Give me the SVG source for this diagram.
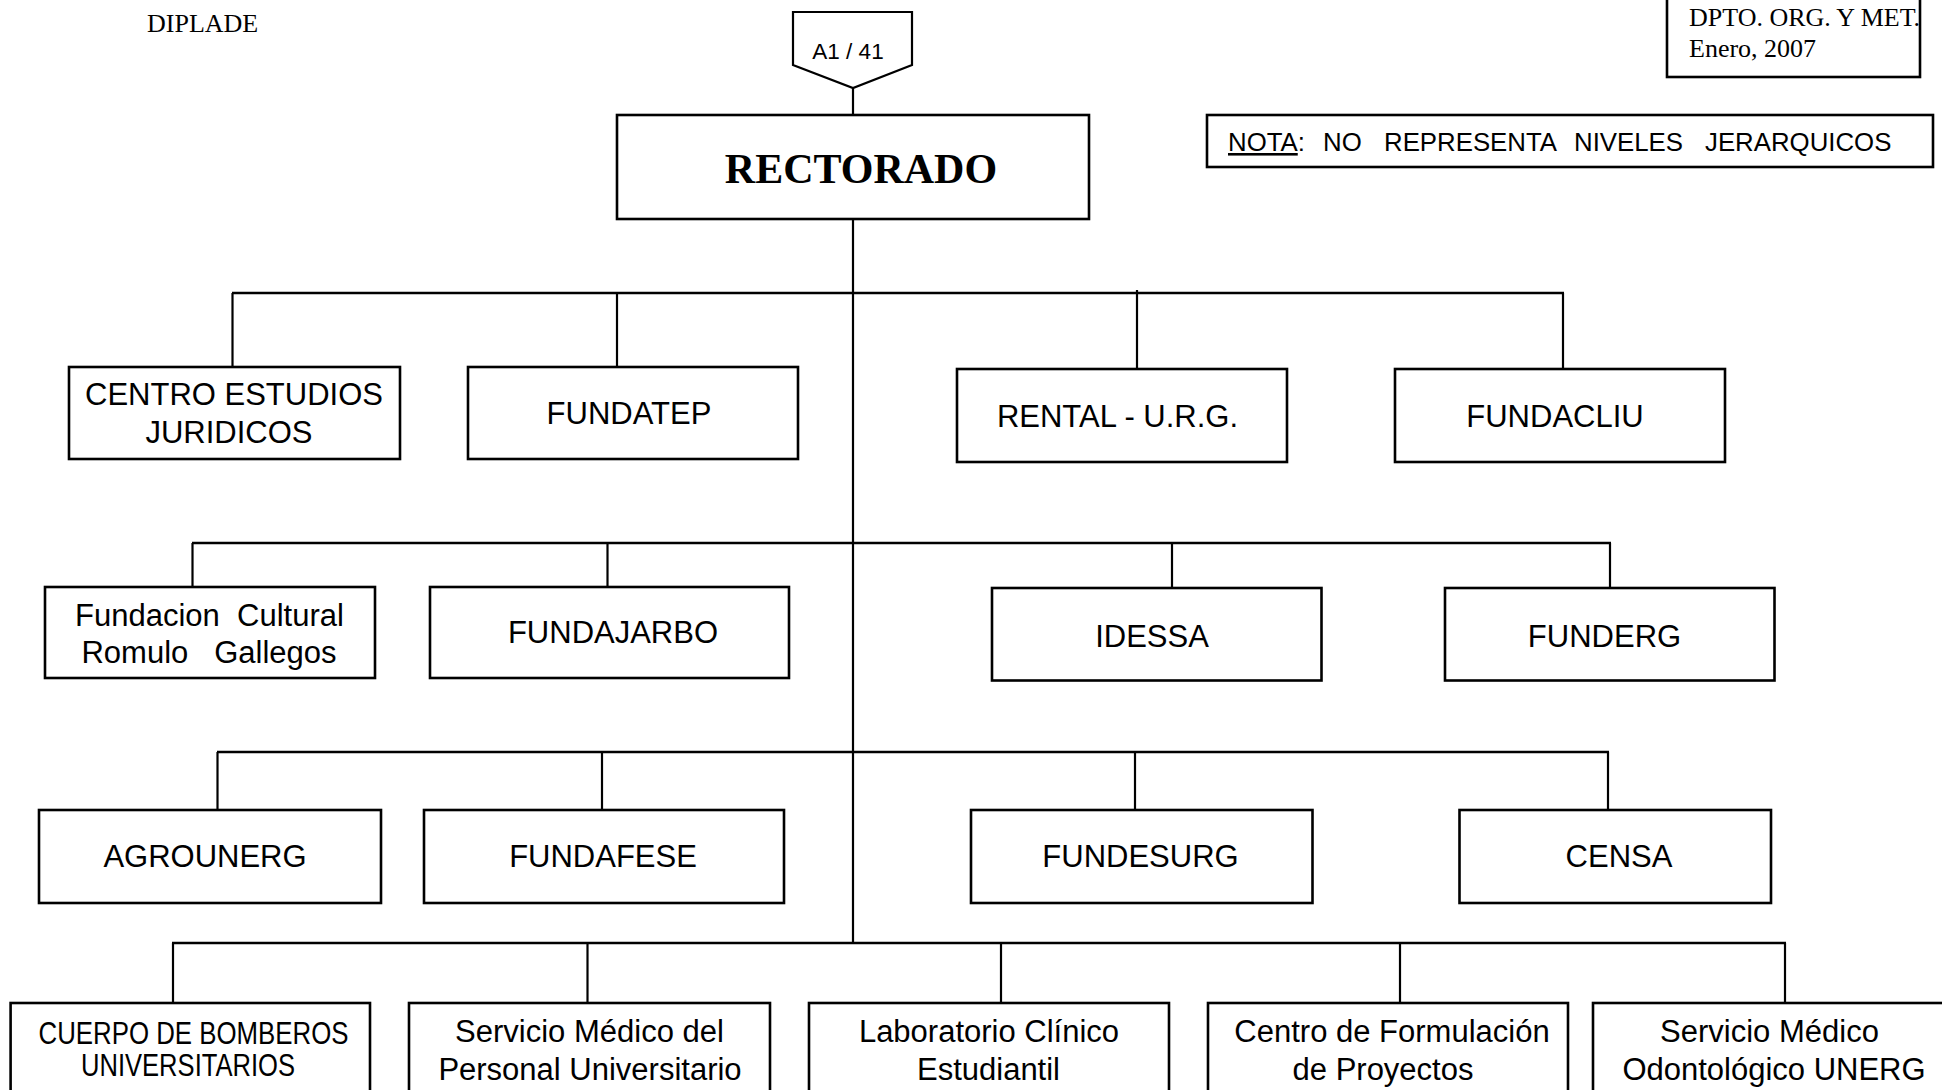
<svg xmlns="http://www.w3.org/2000/svg" width="1942" height="1090" viewBox="0 0 1942 1090">
<style>
.box{fill:#fff;stroke:#000;stroke-width:2.6}
.t{font-family:"Liberation Sans",Arial,sans-serif;font-size:31px;fill:#000;text-anchor:middle}
.s{font-family:"Liberation Serif","Times New Roman",serif;fill:#000}
.bus{stroke:#000;stroke-width:2.6;fill:none}
.v{stroke:#000;stroke-width:2.2;fill:none}
</style>
<rect x="0" y="0" width="1942" height="1090" fill="#fff"/>

<g id="header">
<text class="s" x="147" y="32" font-size="26">DIPLADE</text>
</g>
<g id="dpto">
<rect class="box" x="1667" y="-5" width="253" height="82"/>
<text class="s" x="1689" y="26" font-size="26">DPTO. ORG. Y MET.</text>
<text class="s" x="1689" y="57" font-size="26">Enero, 2007</text>
</g>
<g id="nota">
<rect class="box" x="1207" y="115" width="726" height="52"/>
<text font-family="Liberation Sans, Arial, sans-serif" font-size="25.8" y="151" fill="#000"><tspan x="1228" text-decoration="underline">NOTA</tspan><tspan>:</tspan><tspan x="1323">NO</tspan><tspan x="1384">REPRESENTA</tspan><tspan x="1574">NIVELES</tspan><tspan x="1705">JERARQUICOS</tspan></text>
</g>

<g id="connectors">
<line class="v" x1="853" y1="87" x2="853" y2="116"/>
<line class="v" x1="853" y1="219" x2="853" y2="944"/>
<line class="bus" x1="232" y1="293" x2="1564" y2="293"/>
<line class="v" x1="232.5" y1="293" x2="232.5" y2="367"/>
<line class="v" x1="617" y1="293" x2="617" y2="367"/>
<line class="v" x1="1137" y1="290" x2="1137" y2="369"/>
<line class="v" x1="1563" y1="293" x2="1563" y2="369"/>
<line class="bus" x1="192" y1="543" x2="1611" y2="543"/>
<line class="v" x1="192.5" y1="543" x2="192.5" y2="587"/>
<line class="v" x1="607.5" y1="543" x2="607.5" y2="590"/>
<line class="v" x1="1172" y1="543" x2="1172" y2="588"/>
<line class="v" x1="1610" y1="543" x2="1610" y2="588"/>
<line class="bus" x1="217" y1="752" x2="1609" y2="752"/>
<line class="v" x1="217.5" y1="752" x2="217.5" y2="810"/>
<line class="v" x1="602" y1="752" x2="602" y2="810"/>
<line class="v" x1="1135" y1="752" x2="1135" y2="810"/>
<line class="v" x1="1608" y1="752" x2="1608" y2="810"/>
<line class="bus" x1="172" y1="943" x2="1786" y2="943"/>
<line class="v" x1="173" y1="943" x2="173" y2="1003"/>
<line class="v" x1="587.5" y1="943" x2="587.5" y2="1003"/>
<line class="v" x1="1001" y1="943" x2="1001" y2="1003"/>
<line class="v" x1="1400" y1="943" x2="1400" y2="1003"/>
<line class="v" x1="1785" y1="943" x2="1785" y2="1003"/>
</g>

<g id="a1-41">
<polygon points="793,12 912,12 912,65 853,88 793,65" fill="#fff" stroke="#000" stroke-width="2.2"/>
<text font-family="Liberation Sans, Arial, sans-serif" font-size="22.5" x="848" y="59" text-anchor="middle" fill="#000">A1 / 41</text>
</g>
<g id="rectorado">
<rect class="box" x="617" y="115" width="472" height="104"/>
<text class="s" x="861" y="183" font-size="42" font-weight="bold" text-anchor="middle">RECTORADO</text>
</g>

<g id="centro-estudios">
<rect class="box" x="69" y="367" width="331" height="92"/>
<text class="t" x="234" y="405">CENTRO ESTUDIOS</text>
<text class="t" x="229" y="443">JURIDICOS</text>
</g>
<g id="fundatep">
<rect class="box" x="468" y="367" width="330" height="92"/>
<text class="t" x="629" y="424">FUNDATEP</text>
</g>
<g id="rental">
<rect class="box" x="957" y="369" width="330" height="93"/>
<text class="t" x="1117.5" y="427">RENTAL - U.R.G.</text>
</g>
<g id="fundacliu">
<rect class="box" x="1395" y="369" width="330" height="93"/>
<text class="t" x="1555" y="427">FUNDACLIU</text>
</g>

<g id="fundacion-cultural">
<rect class="box" x="45" y="587" width="330" height="91"/>
<text class="t" x="209.5" y="626" xml:space="preserve">Fundacion  Cultural</text>
<text class="t" x="209" y="663" xml:space="preserve">Romulo   Gallegos</text>
</g>
<g id="fundajarbo">
<rect class="box" x="430" y="587" width="359" height="91"/>
<text class="t" x="613" y="643">FUNDAJARBO</text>
</g>
<g id="idessa">
<rect class="box" x="992" y="588" width="329.5" height="92.5"/>
<text class="t" x="1152" y="647">IDESSA</text>
</g>
<g id="funderg">
<rect class="box" x="1445" y="588" width="329.5" height="92.5"/>
<text class="t" x="1604.5" y="647">FUNDERG</text>
</g>

<g id="agrounerg">
<rect class="box" x="39" y="810" width="342" height="93"/>
<text class="t" x="205" y="867">AGROUNERG</text>
</g>
<g id="fundafese">
<rect class="box" x="424" y="810" width="360" height="93"/>
<text class="t" x="603" y="867">FUNDAFESE</text>
</g>
<g id="fundesurg">
<rect class="box" x="971" y="810" width="341.5" height="93"/>
<text class="t" x="1140.5" y="867">FUNDESURG</text>
</g>
<g id="censa">
<rect class="box" x="1459.5" y="810" width="311.5" height="93"/>
<text class="t" x="1619" y="867">CENSA</text>
</g>

<g id="cuerpo-bomberos">
<rect class="box" x="10.6" y="1003" width="359.4" height="110"/>
<text class="t" x="193.5" y="1044" font-size="27" textLength="310" lengthAdjust="spacingAndGlyphs">CUERPO DE BOMBEROS</text>
<text class="t" x="188" y="1076" font-size="27" textLength="214" lengthAdjust="spacingAndGlyphs">UNIVERSITARIOS</text>
</g>
<g id="servicio-medico-personal">
<rect class="box" x="409" y="1003" width="361" height="110"/>
<text class="t" x="589.5" y="1042">Servicio Médico del</text>
<text class="t" x="590" y="1080">Personal Universitario</text>
</g>
<g id="laboratorio">
<rect class="box" x="809" y="1003" width="360" height="110"/>
<text class="t" x="989" y="1042">Laboratorio Clínico</text>
<text class="t" x="988.5" y="1080">Estudiantil</text>
</g>
<g id="centro-formulacion">
<rect class="box" x="1208" y="1003" width="360" height="110"/>
<text class="t" x="1392" y="1042">Centro de Formulación</text>
<text class="t" x="1383" y="1080">de Proyectos</text>
</g>
<g id="servicio-odontologico">
<rect class="box" x="1593" y="1003" width="362" height="110"/>
<text class="t" x="1769.5" y="1042">Servicio Médico</text>
<text class="t" x="1774" y="1080">Odontológico UNERG</text>
</g>
</svg>
